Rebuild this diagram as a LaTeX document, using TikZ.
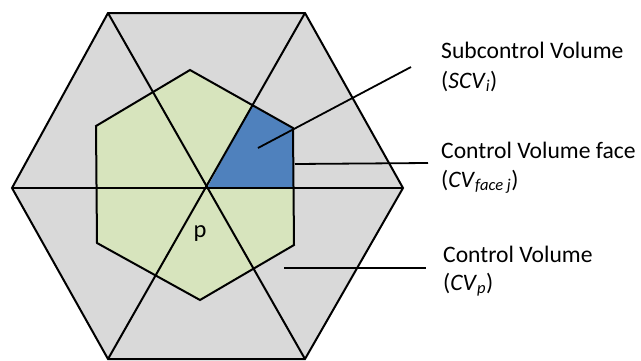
\documentclass[tikz,border=0pt]{standalone}
\usepackage{fontspec}
\setmainfont{Carlito}
\definecolor{cvgray}{HTML}{D9D9D9}
\definecolor{cvgreen}{HTML}{D7E4BD}
\definecolor{cvblue}{HTML}{4F81BD}
\tikzset{
  edge/.style={draw=black, line width=2pt, line join=miter},
  leader/.style={draw=black, line width=1.8pt},
  lbl/.style={anchor=base west, inner sep=0pt, font=\fontsize{23.6}{28}\selectfont, text=black},
}
\newcommand{\sbx}[1]{\textsubscript{\textit{#1}}}
\begin{document}
\begin{tikzpicture}[x=1pt,y=-1pt]
\useasboundingbox (0,0) rectangle (641,360);
% corners of outer hexagon
\coordinate (o1) at (108,13);
\coordinate (o2) at (305,13);
\coordinate (o3) at (403,188);
\coordinate (o4) at (305,359);
\coordinate (o5) at (108,359);
\coordinate (o6) at (12,188);
\coordinate (c) at (207,188);
% inner polygon
\coordinate (i1) at (190,70);
\coordinate (i2) at (293,128);
\coordinate (i3) at (294,245);
\coordinate (i4) at (200,300);
\coordinate (i5) at (97,243);
\coordinate (i6) at (96,126);
% blue sub-volume
\coordinate (b1) at (252,106);
\coordinate (b3) at (293,188);
\fill[cvgray] (o1) -- (o2) -- (o3) -- (o4) -- (o5) -- (o6) -- cycle;
\fill[cvgreen] (i1) -- (i2) -- (i3) -- (i4) -- (i5) -- (i6) -- cycle;
\fill[cvblue] (c) -- (b1) -- (i2) -- (b3) -- cycle;
\draw[edge] (i1) -- (i2) -- (i3) -- (i4) -- (i5) -- (i6) -- cycle;
\draw[edge] (o1) -- (o4);
\draw[edge] (o2) -- (o5);
\draw[edge] (o6) -- (o3);
\draw[edge] (o1) -- (o2) -- (o3) -- (o4) -- (o5) -- (o6) -- cycle;
\node[font=\fontsize{24.5}{29}\selectfont, inner sep=0pt] (p) at (200,234) {p};
% labels
\node[lbl] (t1a) at (441,58) {Subcontrol Volume};
\node[lbl] (t1b) at (441,88) {(\textit{SCV}\sbx{i})};
\node[lbl] (t2a) at (441,158) {Control Volume face};
\node[lbl] (t2b) at (441,187) {(\textit{CV}\sbx{face j})};
\node[lbl] (t3a) at (443,262) {Control Volume};
\node[lbl] (t3b) at (443,290) {(\textit{CV}\sbx{p})};
% leader lines
\coordinate (l1s) at (258,148);
\coordinate (l1e) at (411,67);
\coordinate (l2s) at (295,164);
\coordinate (l2e) at (428,163);
\coordinate (l3s) at (284,268);
\coordinate (l3e) at (426,268);
\draw[leader] (l1s) -- (l1e);
\draw[leader] (l2s) -- (l2e);
\draw[leader] (l3s) -- (l3e);
\end{tikzpicture}
\end{document}
